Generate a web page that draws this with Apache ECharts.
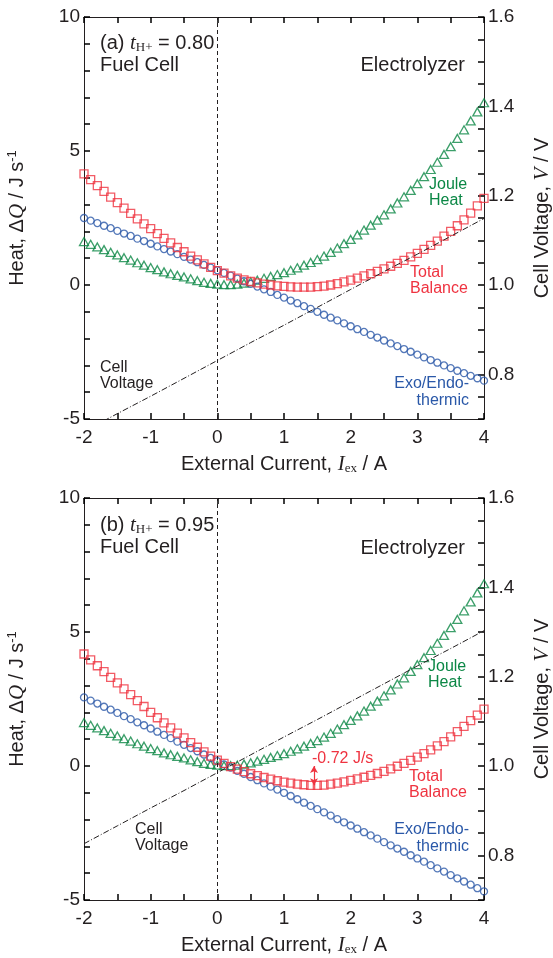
<!DOCTYPE html>
<html>
<head>
<meta charset="UTF-8">
<title>heat balance</title>
<style>
  body { margin: 0; background: #fff; }
  #chart { width: 553px; height: 958px; }
</style>
<script src="https://cdn.jsdelivr.net/npm/echarts@6/dist/echarts.min.js"></script>
</head>
<body>
<div id="chart"></div>
<script>
// external current, A (x of every marker)
var current = [-2.0,-1.9,-1.8,-1.7,-1.6,-1.5,-1.4,-1.3,-1.2,-1.1,
  -1.0,-0.9,-0.8,-0.7,-0.6,-0.5,-0.4,-0.3,-0.2,-0.1,
  0.0,0.1,0.2,0.3,0.4,0.5,0.6,0.7,0.8,0.9,
  1.0,1.1,1.2,1.3,1.4,1.5,1.6,1.7,1.8,1.9,
  2.0,2.1,2.2,2.3,2.4,2.5,2.6,2.7,2.8,2.9,
  3.0,3.1,3.2,3.3,3.4,3.5,3.6,3.7,3.8,3.9,4.0];

// (a) t_H+ = 0.80
var jouleA = [1.62,1.52,1.42,1.32,1.22,1.12,1.02,0.93,0.83,0.74,
  0.65,0.57,0.49,0.42,0.36,0.30,0.23,0.16,0.10,0.06,
  0.03,0.01,0.01,0.03,0.07,0.12,0.18,0.25,0.32,0.39,
  0.46,0.55,0.64,0.74,0.84,0.95,1.08,1.22,1.38,1.54,
  1.70,1.87,2.05,2.23,2.42,2.62,2.84,3.06,3.29,3.53,
  3.78,4.04,4.31,4.58,4.87,5.16,5.47,5.79,6.12,6.46,6.80];
var exoA = [2.50,2.40,2.31,2.21,2.12,2.02,1.92,1.83,1.73,1.64,
  1.54,1.44,1.34,1.25,1.15,1.05,0.95,0.85,0.75,0.65,
  0.55,0.45,0.35,0.24,0.14,0.04,-0.06,-0.16,-0.26,-0.37,
  -0.47,-0.58,-0.68,-0.79,-0.89,-1.00,-1.11,-1.22,-1.32,-1.43,
  -1.54,-1.65,-1.75,-1.86,-1.96,-2.07,-2.18,-2.28,-2.39,-2.49,
  -2.60,-2.70,-2.80,-2.90,-3.00,-3.10,-3.20,-3.29,-3.39,-3.48,-3.57];
var totalA = [4.15,3.93,3.71,3.49,3.28,3.07,2.87,2.67,2.47,2.28,
  2.10,1.92,1.74,1.57,1.40,1.24,1.08,0.94,0.79,0.66,
  0.54,0.44,0.34,0.26,0.19,0.13,0.08,0.03,0.00,-0.03,
  -0.05,-0.07,-0.08,-0.08,-0.08,-0.06,-0.04,0.00,0.05,0.12,
  0.18,0.26,0.34,0.42,0.51,0.60,0.70,0.81,0.92,1.05,
  1.18,1.33,1.48,1.64,1.82,2.00,2.21,2.43,2.68,2.95,3.23];

// (b) t_H+ = 0.95
var jouleB = [1.62,1.52,1.42,1.32,1.22,1.12,1.02,0.93,0.83,0.74,
  0.65,0.57,0.49,0.42,0.36,0.30,0.23,0.16,0.10,0.06,
  0.03,0.01,0.01,0.03,0.07,0.12,0.18,0.25,0.32,0.39,
  0.46,0.55,0.64,0.74,0.84,0.95,1.08,1.22,1.38,1.54,
  1.70,1.87,2.05,2.23,2.42,2.62,2.84,3.06,3.29,3.53,
  3.78,4.04,4.31,4.58,4.87,5.16,5.47,5.79,6.12,6.46,6.80];
var exoB = [2.56,2.44,2.33,2.21,2.10,1.98,1.86,1.75,1.63,1.52,
  1.40,1.28,1.16,1.04,0.91,0.79,0.67,0.55,0.43,0.30,
  0.18,0.06,-0.06,-0.18,-0.29,-0.41,-0.53,-0.65,-0.77,-0.88,
  -1.00,-1.12,-1.24,-1.37,-1.49,-1.61,-1.73,-1.85,-1.98,-2.10,
  -2.22,-2.34,-2.47,-2.59,-2.71,-2.84,-2.96,-3.08,-3.20,-3.33,
  -3.45,-3.57,-3.70,-3.82,-3.94,-4.07,-4.19,-4.31,-4.43,-4.56,-4.68];
var totalB = [4.18,3.96,3.74,3.52,3.31,3.10,2.88,2.66,2.44,2.22,
  2.00,1.80,1.61,1.42,1.23,1.05,0.87,0.70,0.53,0.37,
  0.22,0.10,-0.02,-0.12,-0.21,-0.29,-0.36,-0.43,-0.49,-0.55,
  -0.60,-0.64,-0.68,-0.70,-0.72,-0.72,-0.71,-0.68,-0.64,-0.59,
  -0.54,-0.48,-0.42,-0.35,-0.28,-0.20,-0.11,-0.01,0.10,0.21,
  0.33,0.46,0.60,0.75,0.91,1.09,1.28,1.48,1.69,1.90,2.12];

// cell voltage, V
var voltCurrent = [-2.0,-1.5,-1.0,-0.5,0.0,0.5,1.0,1.5,2.0,2.5,3.0,3.5,4.0];
var voltA = [0.672,0.712,0.751,0.791,0.831,0.871,0.910,0.950,0.990,1.030,1.069,1.109,1.149];
var voltB = [0.826,0.866,0.906,0.945,0.985,1.025,1.065,1.104,1.144,1.184,1.224,1.263,1.303];

// minimum of total balance in (b)
var minB = { current: 1.45, heat: -0.72, text: '-0.72 J/s' };

// tick labels
var heatLabels = ['-5', '0', '5', '10'];
var voltLabels = ['0.8', '1.0', '1.2', '1.4', '1.6'];
var currentLabels = ['-2', '-1', '0', '1', '2', '3', '4'];

var ink = '#231f20';
var green = '#0b8745';
var red = '#ef3340';
var blue = '#2a58a8';
var sans = 'Liberation Sans, Arial, sans-serif';
var serif = 'Liberation Serif, Times New Roman, serif';

function pairs(xs, ys) {
  return xs.map(function (x, i) { return [x, ys[i]]; });
}

var richName = {
  i: { fontFamily: serif, fontStyle: 'italic', fontSize: 21, color: ink },
  sub: { fontFamily: serif, fontSize: 13, color: ink, padding: [9, 0, 0, 0] },
  sup: { fontFamily: sans, fontSize: 13, color: ink, padding: [0, 0, 9, 0] }
};

// every tick is a major tick; labels only where the reference prints them
function frame() {
  return {
    axisLine: { show: true, onZero: false, lineStyle: { color: ink, width: 1 } },
    axisTick: { show: true, inside: true, length: 6, lineStyle: { color: '#000', width: 1.5 } },
    splitLine: { show: false }
  };
}

function tickLabels(list, fmt, margin) {
  return {
    color: ink, fontSize: 19, fontFamily: sans, margin: margin,
    formatter: function (v) {
      var s = fmt(v);
      return list.indexOf(s) >= 0 ? s : '';
    }
  };
}

var xAxes = [], yAxes = [], series = [];

function addPanel(g, joule, exo, total, volt, withMin) {
  var bottom = Object.assign({
    type: 'value', gridIndex: g, position: 'bottom', min: -2, max: 4, interval: 0.5,
    name: 'External Current, {i|I}{sub|ex} / A', nameLocation: 'middle', nameGap: 34,
    nameTextStyle: { color: ink, fontSize: 20, fontFamily: sans, rich: richName },
    axisLabel: tickLabels(currentLabels, function (v) { return String(v); }, 9)
  }, frame());
  var top = Object.assign({
    type: 'value', gridIndex: g, position: 'top', min: -2, max: 4, interval: 0.5,
    axisLabel: { show: false }
  }, frame());
  var left = Object.assign({
    type: 'value', gridIndex: g, position: 'left', min: -5, max: 10, interval: 1,
    name: 'Heat, Δ{i|Q} / J s{sup|-1}', nameLocation: 'middle', nameGap: 56, nameRotate: 90,
    nameTextStyle: { color: ink, fontSize: 20, fontFamily: sans, rich: richName },
    axisLabel: tickLabels(heatLabels, function (v) { return String(v); }, 4)
  }, frame());
  var right = Object.assign({
    type: 'value', gridIndex: g, position: 'right', min: 0.7, max: 1.6, interval: 0.05,
    name: 'Cell Voltage, {i|V} / V', nameLocation: 'middle', nameGap: 48, nameRotate: 90,
    nameTextStyle: { color: ink, fontSize: 20, fontFamily: sans, rich: richName },
    axisLabel: tickLabels(voltLabels, function (v) {
      var s = v.toFixed(2);
      return s.charAt(s.length - 1) === '0' ? v.toFixed(1) : '';
    }, 4)
  }, frame());

  var xi = xAxes.length, yi = yAxes.length;
  xAxes.push(bottom, top);
  yAxes.push(left, right);

  var guides = {
    silent: true, symbol: 'none', label: { show: false },
    lineStyle: { color: ink, type: [4, 3], width: 1 },
    data: [{ yAxis: 0 }, { xAxis: 0 }]
  };

  series.push({
    type: 'line', xAxisIndex: xi, yAxisIndex: yi + 1, data: pairs(voltCurrent, volt),
    showSymbol: false, clip: true, silent: true,
    lineStyle: { color: ink, width: 1, type: [6, 2, 1, 2] },
    markLine: guides
  });
  series.push({
    type: 'scatter', xAxisIndex: xi, yAxisIndex: yi, data: pairs(current, joule),
    symbol: 'triangle', symbolSize: [9, 8],
    itemStyle: { color: 'rgba(0,0,0,0)', borderColor: green, borderWidth: 1.3 }
  });
  series.push({
    type: 'scatter', xAxisIndex: xi, yAxisIndex: yi, data: pairs(current, exo),
    symbol: 'circle', symbolSize: 7,
    itemStyle: { color: 'rgba(0,0,0,0)', borderColor: blue, borderWidth: 1.3 }
  });
  var tot = {
    type: 'scatter', xAxisIndex: xi, yAxisIndex: yi, data: pairs(current, total),
    symbol: 'rect', symbolSize: 8,
    itemStyle: { color: 'rgba(0,0,0,0)', borderColor: red, borderWidth: 1.3 }
  };
  if (withMin) {
    tot.markLine = {
      silent: true, symbol: ['arrow', 'arrow'], symbolSize: [6, 7], label: { show: false },
      lineStyle: { color: red, type: 'solid', width: 1.2 },
      data: [[{ coord: [withMin.current, 0] }, { coord: [withMin.current, withMin.heat] }]]
    };
  }
  series.push(tot);
}

addPanel(0, jouleA, exoA, totalA, voltA, null);
addPanel(1, jouleB, exoB, totalB, voltB, minB);

var richTag = {
  t: { fontFamily: serif, fontStyle: 'italic', fontSize: 21, color: ink },
  s: { fontFamily: serif, fontSize: 13, color: ink, padding: [9, 0, 0, 0] }
};

function label(x, y, text, color, size, align, lh) {
  return {
    type: 'text', x: x, y: y, silent: true,
    style: {
      text: text, fill: color, fontSize: size, fontFamily: sans,
      align: align || 'left', verticalAlign: 'middle', lineHeight: lh || size, rich: richTag
    }
  };
}

var graphics = [
  label(100, 43, '(a) {t|t}{s|H+} = 0.80', ink, 20),
  label(100, 65, 'Fuel Cell', ink, 20),
  label(465, 65, 'Electrolyzer', ink, 20, 'right'),
  label(429, 193, 'Joule\nHeat', green, 16, 'left', 16),
  label(410, 281, 'Total\nBalance', red, 16, 'left', 16),
  label(469, 392, 'Exo/Endo-\nthermic', blue, 16, 'right', 17),
  label(100, 376, 'Cell\nVoltage', ink, 16, 'left', 16),

  label(100, 525, '(b) {t|t}{s|H+} = 0.95', ink, 20),
  label(100, 547, 'Fuel Cell', ink, 20),
  label(465, 548, 'Electrolyzer', ink, 20, 'right'),
  label(428, 675, 'Joule\nHeat', green, 16, 'left', 16),
  label(312, 759, minB.text, red, 16),
  label(409, 785, 'Total\nBalance', red, 16, 'left', 16),
  label(469, 838, 'Exo/Endo-\nthermic', blue, 16, 'right', 17),
  label(135, 838, 'Cell\nVoltage', ink, 16, 'left', 16)
];

var chart = echarts.init(document.getElementById('chart'));
chart.setOption({
  animation: false,
  backgroundColor: '#fff',
  grid: [
    { left: 84, top: 17, width: 400, height: 402, outerBoundsMode: 'none' },
    { left: 84, top: 498, width: 400, height: 402, outerBoundsMode: 'none' }
  ],
  xAxis: xAxes,
  yAxis: yAxes,
  series: series,
  graphic: graphics
});
</script>
</body>
</html>
